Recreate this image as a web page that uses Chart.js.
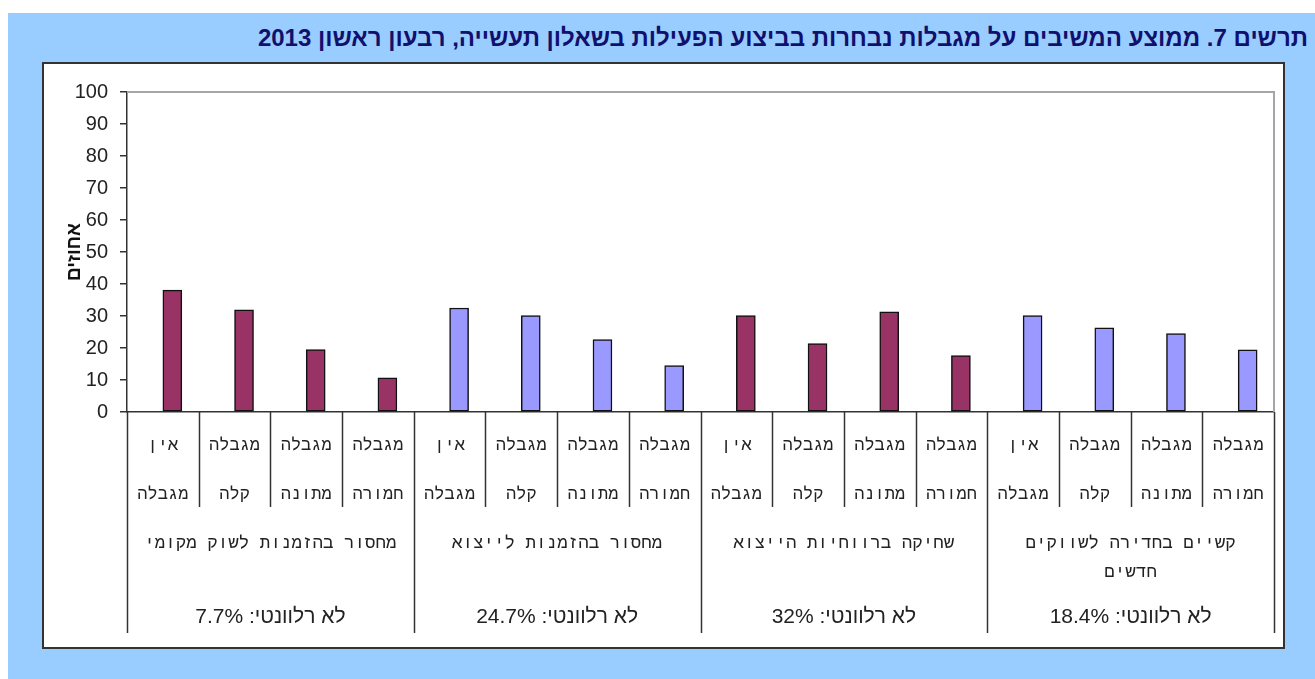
<!DOCTYPE html>
<html lang="he">
<head>
<meta charset="utf-8">
<script src="https://cdn.jsdelivr.net/npm/chart.js@4.4.1/dist/chart.umd.min.js"></script>
<style>
  html, body { margin: 0; padding: 0; background: #fff; width: 1315px; height: 679px; overflow: hidden; }
  .panel { position: absolute; left: 8px; top: 13px; right: 0; bottom: 0; background: #99ccff; border-top: 1px solid #b8c4d0; }
  .title {
    position: absolute; left: 8px; right: 7px; top: 14px; height: 48px;
    direction: rtl; text-align: right; white-space: nowrap;
    font: bold 24px "Liberation Sans", Arial, sans-serif; line-height: 48px; color: #10106e;
  }
  .box { position: absolute; left: 42px; top: 62px; width: 1243px; height: 587px; box-sizing: border-box; border: 2px solid #333; background: #fff; }
  .box canvas { display: block; }
</style>
</head>
<body>
<div class="panel"></div>
<div class="title">תרשים 7. ממוצע המשיבים על מגבלות נבחרות בביצוע הפעילות בשאלון תעשייה, רבעון ראשון 2013</div>
<div class="box"><canvas id="chart"></canvas></div>
<script>
// bar labels (top row of the table), left to right as drawn
const levels = [['אין', 'מגבלה'], ['מגבלה', 'קלה'], ['מגבלה', 'מתונה'], ['מגבלה', 'חמורה']];
const groups = [
  ['מחסור בהזמנות לשוק מקומי'],
  ['מחסור בהזמנות לייצוא'],
  ['שחיקה ברווחיות הייצוא'],
  ['קשיים בחדירה לשווקים', 'חדשים'],
];
const notRelevant = ['7.7%', '24.7%', '32%', '18.4%'];
const values = [38.1, 31.9, 19.5, 10.7, 32.5, 30.1, 22.6, 14.5, 30.1, 21.4, 31.3, 17.6, 30.1, 26.3, 24.5, 19.4];
const yTicks = [0, 10, 20, 30, 40, 50, 60, 70, 80, 90, 100];

const groupColors = ['#993366', '#9999ff'];
const labels = [];
const barColors = [];
groups.forEach((g, gi) => {
  levels.forEach((lv) => {
    labels.push(g.join(' ') + ' - ' + lv.join(' '));
    barColors.push(groupColors[gi % 2]);
  });
});

const INK = '#222';
const LABEL_FONT = '"Liberation Mono", "DejaVu Sans Mono", monospace';

// draws the plot frame and the label table under the axis
const tablePlugin = {
  id: 'tableLabels',
  afterDraw(chart) {
    const { ctx, chartArea } = chart;
    const x = chart.scales.x;
    const catW = x.getPixelForValue(1) - x.getPixelForValue(0);
    const edge = (i) => x.getPixelForValue(0) - catW / 2 + i * catW;
    const base = chartArea.bottom;

    ctx.save();
    // gray plot border top / right
    ctx.strokeStyle = '#a6a6a6';
    ctx.lineWidth = 2;
    ctx.beginPath();
    ctx.moveTo(chartArea.left, chartArea.top);
    ctx.lineTo(chartArea.right, chartArea.top);
    ctx.lineTo(chartArea.right, base);
    ctx.stroke();

    // table lines
    ctx.strokeStyle = '#333';
    ctx.lineWidth = 1.5;
    for (let i = 0; i <= labels.length; i++) {
      const px = Math.round(edge(i)) + 0.5;
      ctx.beginPath();
      ctx.moveTo(px, base);
      ctx.lineTo(px, i % levels.length === 0 ? base + 221 : base + 95);
      ctx.stroke();
    }

    ctx.fillStyle = INK;
    ctx.direction = 'rtl';
    ctx.textAlign = 'center';
    ctx.textBaseline = 'middle';

    ctx.font = '17px ' + LABEL_FONT;
    labels.forEach((_, i) => {
      const cx = edge(i) + catW / 2;
      const lv = levels[i % levels.length];
      ctx.fillText(lv[0], cx, base + 33);
      ctx.fillText(lv[1], cx, base + 82);
    });

    groups.forEach((g, gi) => {
      const cx = (edge(gi * levels.length) + edge((gi + 1) * levels.length)) / 2;
      ctx.font = '17.5px ' + LABEL_FONT;
      g.forEach((line, li) => ctx.fillText(line, cx, base + 131 + li * 29));
      ctx.font = '21px "Liberation Sans", Arial, sans-serif';
      ctx.fillText('לא רלוונטי: ' + notRelevant[gi], cx, base + 205);
    });
    ctx.restore();
  },
};

Chart.defaults.font.family = '"Liberation Sans", Arial, sans-serif';
Chart.defaults.color = INK;

new Chart(document.getElementById('chart'), {
  type: 'bar',
  data: {
    labels,
    datasets: [
      // empty slot on the left of each category, so the bars sit right of centre as in the original
      { label: '', data: labels.map(() => null), barThickness: 19 },
      {
        label: 'אחוזים',
        data: values,
        backgroundColor: barColors,
        borderColor: '#111',
        borderWidth: 1.5,
        borderSkipped: false,
        barThickness: 19,
      },
    ],
  },
  options: {
    responsive: true,
    maintainAspectRatio: false,
    animation: false,
    layout: { padding: { top: 28, right: 9, bottom: 0, left: 0 } },
    plugins: {
      legend: { display: false },
      tooltip: { enabled: false },
    },
    scales: {
      x: {
        ticks: { display: false },
        grid: { display: false },
        border: { display: true, color: '#333', width: 1.5 },
        afterFit: (scale) => { scale.height = 235; },
      },
      y: {
        min: 0,
        max: 100,
        afterBuildTicks: (scale) => { scale.ticks = yTicks.map((v) => ({ value: v })); },
        ticks: { font: { size: 20 }, color: INK, padding: 12 },
        grid: { display: true, drawOnChartArea: false, drawTicks: true, tickLength: 7, color: '#333', lineWidth: 1.5 },
        border: { display: true, color: '#333', width: 1.5 },
        title: { display: true, text: 'אחוזים', font: { size: 19, weight: 'bold' }, color: '#111', padding: { top: 19, bottom: 0 } },
        afterFit: (scale) => { scale.width = 83; },
      },
    },
  },
  plugins: [tablePlugin],
});
</script>
</body>
</html>
